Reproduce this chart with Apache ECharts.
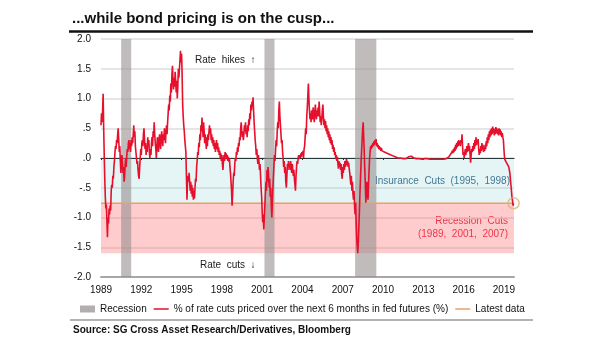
<!DOCTYPE html>
<html>
<head>
<meta charset="utf-8">
<script src="https://cdn.jsdelivr.net/npm/echarts@6/dist/echarts.min.js"></script>
<style>
  html, body { margin: 0; padding: 0; background: #fff; }
  #chart { width: 605px; height: 341px; }
</style>
</head>
<body>
<div id="chart"></div>
<script>
// Share of a 25bp cut priced over the next 6 months in fed funds futures, 1989–2019.
// Each block of values is sampled on a regular grid starting at its own date.
const v1989 = [
  0.55, 0.75, 0.60, 0.80, 1.08, 0.50, 0.05, -0.35, -0.65, -0.85, -0.78, -1.05, -1.33, -1.00, -1.10, -0.85, -0.95, -0.80, -0.88, -0.55, -0.45, -0.50, -0.30, -0.35, -0.15,
  -0.05, 0.10, 0.20, 0.15, 0.30, 0.25, 0.40, 0.50, 0.30, 0.10, 0.20, -0.05, -0.25, -0.10, 0.05, -0.10, -0.25, -0.15, -0.40, -0.30, -0.10, 0.00, -0.15, 0.05, 0.15,
  0.10, 0.25, 0.30, 0.15, 0.25, 0.10, 0.30, 0.20, 0.35, 0.25, 0.40, 0.55, 0.35, 0.45, 0.20, 0.10, 0.00, -0.10, -0.05, -0.20, -0.30, -0.35, -0.15, 0.00, 0.15
];
const v1992 = [
  0.05, 0.25, 0.30, 0.20, 0.40, 0.50, 0.30, 0.15, 0.25, 0.05, 0.20, 0.10, 0.35, 0.20, 0.30, 0.10, 0.00, 0.15, 0.05, 0.25, 0.35, 0.20, 0.45, 0.35, 0.60,
  0.40, 0.25, 0.15, 0.00, 0.20, 0.35, 0.25, 0.10, 0.30, 0.40, 0.25, 0.15, 0.35, 0.45, 0.30, 0.20, 0.40, 0.30, 0.50, 0.35, 0.25, 0.45, 0.55, 0.40, 0.60,
  0.75, 0.90, 0.80, 1.05, 0.95, 1.25, 1.10, 1.40, 1.55, 1.30, 1.15, 1.35, 1.20, 1.45, 1.30, 1.10, 1.30, 1.00, 1.20, 1.50, 1.35, 1.50, 1.65, 1.80, 1.60
];
const v1995 = [
  1.75, 1.40, 0.90, 0.70, 0.55, 0.45, 0.30, 0.20, 0.10, -0.30, -0.70, -0.40, -0.30, -0.40, -0.25, -0.40, -0.55, -0.40, -0.60, -0.45, -0.65, -0.50, -0.70, -0.55, -0.68,
  -0.50, -0.35, -0.40, -0.15, -0.05, 0.10, 0.05, 0.25, 0.18, 0.40, 0.30, 0.55, 0.45, 0.68, 0.50, 0.35, 0.60, 0.45, 0.25, 0.40, 0.30, 0.15, 0.35, 0.20, 0.40,
  0.30, 0.45, 0.55, 0.40, 0.50, 0.30, 0.40, 0.25, 0.35, 0.20, 0.30, 0.15, 0.25, 0.10, 0.20, 0.30, 0.15, 0.25, 0.10, 0.18, 0.05, 0.12, 0.00, 0.08, -0.05
];
const v1998 = [
  0.05, -0.10, -0.20, -0.05, 0.05, -0.05, 0.10, 0.02, 0.08, -0.02, 0.05, -0.05, 0.02, -0.06, 0.00, -0.15, -0.25, -0.40, -0.55, -0.80, -0.60, -0.40, -0.25, -0.30, -0.10,
  0.00, -0.05, 0.10, 0.05, 0.18, 0.10, 0.25, 0.20, 0.35, 0.30, 0.50, 0.60, 0.45, 0.35, 0.45, 0.30, 0.40, 0.55, 0.45, 0.60, 0.40, 0.50, 0.35, 0.55, 0.45,
  0.65, 0.55, 0.75, 0.65, 0.90, 0.80, 0.95, 0.85, 1.02, 0.80, 0.60, 0.45, 0.30, 0.20, 0.05, 0.15, 0.00, -0.10, 0.05, -0.05, -0.20, -0.10, -0.30, -0.50, -0.65
];
const v2001 = [
  -0.90, -1.08, -0.95, -1.20, -1.00, -0.80, -0.60, -0.40, -0.55, -0.20, -0.40, -0.15, -0.30, -0.50, -0.35, -0.65, -0.50, -0.80, -1.00, -0.75, -0.50, -0.30, -0.10, 0.05, -0.05,
  0.15, 0.30, 0.20, 0.45, 0.60, 0.50, 0.80, 0.95, 0.70, 0.55, 0.40, 0.25, 0.30, 0.10, 0.00, -0.15, -0.05, -0.25, -0.15, -0.40, -0.50, -0.30, -0.10, -0.20, -0.05,
  -0.15, -0.10, -0.20, -0.05, -0.15, -0.25, -0.10, -0.20, -0.30, -0.20, -0.35, -0.45, -0.55, -0.30, -0.15, -0.05, -0.10, 0.00, 0.05, -0.02, 0.05, 0.00, 0.08, 0.02, 0.10
];
const v2004 = [
  0.05, 0.12, 0.00, 0.15, 0.20, 0.35, 0.50, 0.40, 0.70, 0.85, 1.05, 1.25, 1.00, 0.80, 0.65, 0.75, 0.60, 0.80, 0.65, 0.72, 0.85, 0.70, 0.60, 0.75, 0.90,
  0.75, 0.65, 0.80, 0.70, 0.85, 0.70, 0.95, 0.80, 0.60, 0.70, 0.55, 0.65, 0.80, 0.90, 0.70, 0.55, 0.65, 0.50, 0.62, 0.45, 0.55, 0.40, 0.50, 0.35, 0.45,
  0.30, 0.40, 0.25, 0.35, 0.22, 0.30, 0.15, 0.22, 0.10, 0.18, 0.05, 0.10, -0.02, 0.05, -0.05, 0.02, -0.10, -0.18, -0.05, -0.15, -0.08, -0.20, -0.10, -0.28, -0.35
];
const v2007 = [
  -0.15, -0.25, -0.10, -0.20, -0.05, -0.15, -0.08, -0.02, -0.12, -0.05, -0.15, -0.08, -0.18, -0.25, -0.35, -0.45, -0.30, -0.55, -0.40, -0.60, -0.70, -0.55, -0.80, -0.95, -0.75,
  -1.10, -1.35, -1.50, -1.60, -1.40, -1.15, -0.90, -0.60, -0.35, -0.10, 0.10, 0.30, 0.48, 0.60, 0.35, 0.10, -0.20, -0.45, -0.75, -0.55, -0.40, -0.60, -0.70, -0.45, -0.20,
  0.00, 0.12, 0.20, 0.15, 0.22, 0.18, 0.25, 0.20, 0.28, 0.22, 0.30, 0.25, 0.32, 0.20, 0.25, 0.18, 0.22, 0.15, 0.20, 0.14, 0.18, 0.12, 0.17, 0.12, 0.15
];
const v2010 = [
  0.12, 0.10, 0.11, 0.08, 0.09, 0.06, 0.07, 0.04, 0.05, 0.02,
  0.01, 0.00, -0.01, 0.00, -0.02, -0.01, -0.03, -0.01, 0.01, 0.02,
  0.01, 0.03, 0.02, 0.00, 0.02, -0.01, 0.01, -0.01, 0.00, -0.02,
  0.00, -0.01, -0.02, -0.01, -0.03, -0.02, -0.03, -0.02, -0.03, -0.02,
  -0.03, -0.02, -0.03, -0.02, -0.03, -0.02, -0.03, -0.01, 0.00, 0.02
];
const v2015 = [
  0.05, 0.02, 0.08, 0.05, 0.12, 0.08, 0.15, 0.10, 0.18, 0.12, 0.22, 0.15, 0.25, 0.18, 0.28, 0.20, 0.30, 0.22, 0.28, 0.20, 0.30, 0.25, 0.40, 0.20, 0.05,
  0.10, 0.00, 0.08, 0.15, 0.05, 0.12, 0.20, 0.10, 0.18, 0.25, 0.12, 0.20, 0.05, -0.08, 0.05, 0.15, 0.10, 0.20, 0.12, 0.25, 0.15, 0.30, 0.20, 0.35, 0.22,
  0.30, 0.25, 0.32, 0.15, 0.05, 0.15, 0.08, 0.20, 0.12, 0.25, 0.15, 0.22, 0.10, 0.18, 0.12, 0.22, 0.15, 0.28, 0.20, 0.35, 0.25, 0.40, 0.30, 0.45, 0.35,
  0.48, 0.38, 0.50, 0.40, 0.53, 0.42, 0.50, 0.38, 0.48, 0.40, 0.52, 0.42, 0.50, 0.40, 0.48, 0.38, 0.50, 0.40, 0.48, 0.38, 0.45, 0.35, 0.42, 0.35, 0.30,
  0.15, 0.02, -0.03, -0.05, -0.03, -0.08, -0.05, -0.10, -0.08, -0.15, -0.20, -0.25, -0.35, -0.45, -0.55, -0.66, -0.72, -0.80, -0.76
];
// [first date, sampling step in years, values]
const blocks = [
  [1989.00, 0.04, v1989], [1992.00, 0.04, v1992], [1995.00, 0.04, v1995],
  [1998.00, 0.04, v1998], [2001.00, 0.04, v2001], [2004.00, 0.04, v2004],
  [2007.00, 0.04, v2007], [2010.00, 0.10, v2010], [2015.00, 0.04, v2015]
];

const recessions = [[1990.50, 1991.25], [2001.17, 2001.92], [2007.92, 2009.50]];
const latestLevel = -0.76;          // latest reading
const insuranceZone = [0, latestLevel];
const recessionZone = [latestLevel, -1.6];
const yearTicks = [1989, 1992, 1995, 1998, 2001, 2004, 2007, 2010, 2013, 2016, 2019];
const yTickLabels = { '2': '2.0', '1.5': '1.5', '1': '1.0', '0.5': '.5', '0': '.0',
  '-0.5': '-.5', '-1': '-1.0', '-1.5': '-1.5', '-2': '-2.0' };
const xStart = 1989, xEnd = 2019.75;

const seriesName = '% of rate cuts priced over the next 6 months in fed futures (%)';

const points = [];
blocks.forEach(([t0, step, vals]) => {
  vals.forEach((v, i) => points.push([+(t0 + i * step).toFixed(2), v]));
});
const last = points[points.length - 1];

const FONT = '"Liberation Sans", Arial, Helvetica, sans-serif';
const LINE_ICON = 'path://M0,0H16V1.6H0Z';
const chart = echarts.init(document.getElementById('chart'), null, { renderer: 'canvas' });

const xCommon = {
  type: 'value', min: xStart, max: xEnd, interval: 3,
  splitLine: { show: false }
};

chart.setOption({
  animation: false,
  backgroundColor: '#ffffff',
  textStyle: { fontFamily: FONT },
  grid: { left: 101, right: 91, top: 39, bottom: 64 },
  xAxis: [
    Object.assign({}, xCommon, {
      position: 'bottom',
      axisLine: { onZero: false, lineStyle: { color: '#a9a6a6', width: 2 } },
      axisTick: { show: false },
      axisLabel: {
        customValues: yearTicks, color: '#111', fontSize: 10, margin: 8, fontFamily: FONT,
        formatter: v => String(Math.round(v))
      }
    }),
    Object.assign({}, xCommon, {
      position: 'bottom',
      axisLine: { onZero: true, lineStyle: { color: '#000', width: 1 } },
      axisTick: { show: true, customValues: yearTicks, length: 2, lineStyle: { color: '#000' } },
      axisLabel: { show: false }
    })
  ],
  yAxis: {
    type: 'value', min: -2, max: 2, interval: 0.5,
    axisLine: { show: false }, axisTick: { show: false },
    splitLine: { lineStyle: { color: '#dcdcdc', width: 1.5 } },
    axisLabel: {
      color: '#111', fontSize: 10, margin: 10, fontFamily: FONT,
      formatter: v => yTickLabels[String(v)]
    }
  },
  legend: {
    left: 80, top: 304, padding: 0, itemGap: 7, itemWidth: 15, itemHeight: 7,
    textStyle: { fontSize: 10, color: '#111', fontFamily: FONT },
    selectedMode: false,
    data: [
      { name: 'Recession', icon: 'rect', itemStyle: { color: '#b3aeae' } },
      { name: seriesName, icon: LINE_ICON, itemStyle: { color: '#e6102c' } },
      { name: 'Latest data', icon: LINE_ICON, itemStyle: { color: '#e9a064' } }
    ]
  },
  series: [
    {
      name: 'zones', type: 'line', data: [], z: 1, silent: true,
      markArea: {
        silent: true,
        data: [
          [{ yAxis: insuranceZone[0], itemStyle: { color: 'rgba(150,210,215,0.25)' } }, { yAxis: insuranceZone[1] }],
          [{ yAxis: recessionZone[0], itemStyle: { color: 'rgba(255,115,120,0.36)' } }, { yAxis: recessionZone[1] }]
        ]
      }
    },
    {
      name: 'Latest data', type: 'line', z: 2, silent: true,
      showSymbol: false, symbol: 'none',
      lineStyle: { color: '#e9a064', width: 1.5 }, itemStyle: { color: '#e9a064' },
      data: [[xStart, latestLevel], [last[0], latestLevel]]
    },
    {
      name: seriesName, type: 'line', z: 3, silent: true,
      showSymbol: false, symbol: 'none',
      lineStyle: { color: '#e6102c', width: 1.6 }, itemStyle: { color: '#e6102c' },
      data: points
    },
    {
      name: 'Recession', type: 'line', data: [], z: 5, silent: true,
      itemStyle: { color: '#b3aeae' }, lineStyle: { color: '#b3aeae' },
      markArea: {
        silent: true,
        itemStyle: { color: 'rgba(150,144,144,0.6)' },
        data: recessions.map(([a, b]) => [{ xAxis: a }, { xAxis: b }])
      }
    },
    {
      name: 'latest point', type: 'scatter', z: 6, silent: true,
      symbol: 'circle', symbolSize: 11,
      itemStyle: { color: 'rgba(0,0,0,0)', borderColor: '#d6b47c', borderWidth: 1.5 },
      data: [last]
    }
  ],
  graphic: [
    { type: 'text', left: 72, top: 11, style: { text: '...while bond pricing is on the cusp...', font: 'bold 15px ' + FONT, fill: '#111' } },
    { type: 'line', shape: { x1: 69, y1: 31.5, x2: 533, y2: 31.5 }, style: { stroke: '#111', lineWidth: 2.5 } },
    { type: 'text', left: 195, top: 55, style: { text: 'Rate  hikes  \u2191', font: '10px ' + FONT, fill: '#1a1a1a' } },
    { type: 'text', left: 200, top: 260, style: { text: 'Rate  cuts  \u2193', font: '10px ' + FONT, fill: '#1a1a1a' } },
    { type: 'text', right: 95, top: 176, style: { text: 'Insurance  Cuts  (1995,  1998)', font: '10px ' + FONT, fill: '#245b7e', align: 'right' } },
    { type: 'text', right: 97, top: 216, style: { text: 'Recession  Cuts', font: '10px ' + FONT, fill: '#e6102c', align: 'right' } },
    { type: 'text', right: 97, top: 229, style: { text: '(1989,  2001,  2007)', font: '10px ' + FONT, fill: '#e6102c', align: 'right' } },
    { type: 'line', shape: { x1: 70, y1: 320, x2: 533, y2: 320 }, style: { stroke: '#9a9a9a', lineWidth: 1.5 } },
    { type: 'text', left: 73, top: 325, style: { text: 'Source: SG Cross Asset Research/Derivatives, Bloomberg', font: 'bold 10px ' + FONT, fill: '#111' } }
  ]
});
</script>
</body>
</html>
